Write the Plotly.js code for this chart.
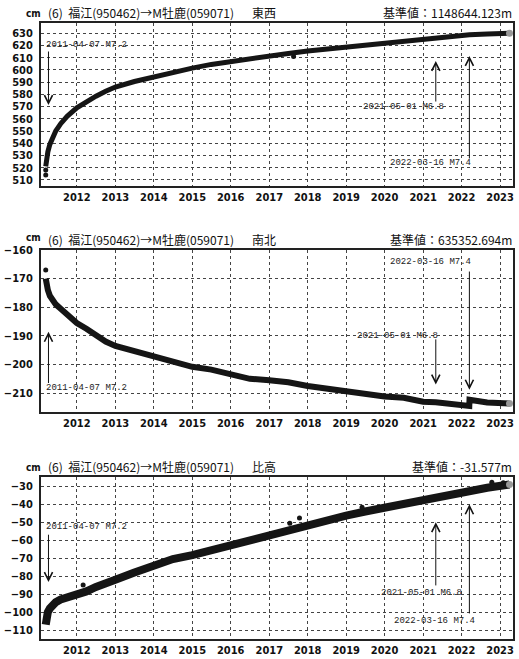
<!DOCTYPE html>
<html><head><meta charset="utf-8">
<script src="https://cdn.plot.ly/plotly-3.0.1.min.js"></script>
<style>body{margin:0;background:#fff}#chart{width:519px;height:659px}</style>
</head><body><div id="chart"></div>
<script>
// ---- data ----
const dates = ['2011-03-12','2011-03-20','2011-04-01','2011-04-20','2011-05-15','2011-06-15','2011-08-01','2011-10-01',
  '2012-01-01','2012-04-01','2012-07-01','2012-10-01','2013-01-01','2013-07-01','2014-01-01','2014-07-01',
  '2015-01-01','2015-07-01','2016-01-01','2016-07-01','2017-01-01','2017-07-01','2018-01-01','2018-07-01',
  '2019-01-01','2019-07-01','2020-01-01','2020-07-01','2021-01-01','2021-04-30','2021-05-02','2021-09-01',
  '2022-01-01','2022-03-15','2022-03-17','2022-09-01','2023-04-01'];
const eastWest = [521,527,533,539,545,550,556,562,569,574,578.5,582.5,586,590.5,594.5,598,601.5,604.5,607,609.5,611.5,613.5,
  615.5,617,618.5,620,621.5,623,624.5,625.5,626.5,627.5,628,628.3,628.8,629.3,630];
const northSouth = [-170,-172,-174,-176,-177.5,-179,-180.5,-182.5,-185.5,-187.5,-190,-192,-193.5,-195.2,-197.3,-198.8,
  -200.8,-201.8,-203.6,-205,-205.5,-206.2,-207.5,-208.5,-209.5,-210.2,-211.2,-211.6,-213,-213.2,-213.2,-213.6,
  -214.3,-214.5,-212.3,-213.3,-213.6];
const upDown = [-107,-103,-100,-98,-96,-94.5,-93,-92,-90.5,-88.5,-86,-83.5,-82,-78,-74,-70.5,-68.3,-65.5,-63,-60.5,
  -57.5,-54,-51.5,-48.8,-46.3,-44,-41.8,-39.5,-37,-36,-36,-34.6,-33.3,-32.8,-32.8,-30.8,-29];
const ewOutDates = ['2011-03-12','2011-03-12','2017-08-20'];
const ewOutVals = [518,514,611];
const nsOutDates = ['2011-03-12'];
const nsOutVals = [-167];
const udOutDates = ['2012-03-01','2017-07-15','2017-10-15','2019-06-01','2022-10-15','2023-02-01'];
const udOutVals = [-85,-50.5,-47.7,-41.6,-27.7,-28];

const quakeDates = ['2011-04-07','2021-05-01','2022-03-16'];
const quakeLabels = ['2011-04-07 M7.2','2021-05-01 M6.8','2022-03-16 M7.4'];
const componentNames = ['東西','南北','比高'];
const baseValues = ['基準値：1148644.123m','基準値：635352.694m','基準値：-31.577m'];
const stationTitle = '(6)  福江(950462)→M牡鹿(059071)';
const yRanges = [[505,638.4],[-216.6,-160],[-115,-24.8]];
const xRange = ['2011-01-26','2023-05-04'];

// arrows per panel: [tailValue, headValue, labelValue, labelShiftPx]
const arrowSpecs = [
  [[616.3,571.3,620.4,-3],[572.9,607.3,569.7,-74],[526.3,611.4,523.8,-80]],
  [[-207,-188.6,-208.1,-3],[-190.7,-207,-190,-80],[-167,-208.8,-164.2,-80]],
  [[-56.1,-83.3,-52.7,-3],[-86,-50,-89.2,-56],[-101.6,-40,-105,-76]]
];

// ---- build ----
const series = [eastWest, northSouth, upDown];
const outD = [ewOutDates, nsOutDates, udOutDates];
const outV = [ewOutVals, nsOutVals, udOutVals];
const widths = [5, 6, 8];
const traces = [];
const layout = {
  width: 519, height: 659, showlegend: false,
  paper_bgcolor: '#fff', plot_bgcolor: '#fff',
  margin: {l: 41, r: 6, t: 23, b: 20},
  annotations: []
};
const domains = [[0.7354,1.0],[0.3685,0.6315],[0.0,0.263]];
const tickFont = {family: 'DejaVu Sans Condensed, Liberation Sans Narrow, Liberation Sans, sans-serif', size: 11, color: '#111', weight: 'bold'};
const titleFont = {family: 'Noto Sans CJK JP, sans-serif', size: 12, color: '#111'};
const labFont = {family: 'Liberation Mono, DejaVu Sans Mono, monospace', size: 9, color: '#222'};

for (let i = 0; i < 3; i++) {
  const sx = i === 0 ? '' : String(i + 1);
  const xa = 'x' + sx, ya = 'y' + sx;
  traces.push({x: dates, y: series[i], xaxis: xa, yaxis: ya, mode: 'lines',
    line: {color: '#151515', width: widths[i]}, hoverinfo: 'skip'});
  traces.push({x: outD[i], y: outV[i], xaxis: xa, yaxis: ya, mode: 'markers',
    marker: {color: '#151515', size: 5}, hoverinfo: 'skip'});
  traces.push({x: [dates[dates.length - 1]], y: [series[i][series[i].length - 1]], xaxis: xa, yaxis: ya, mode: 'markers',
    marker: {color: '#999', size: 7}, hoverinfo: 'skip'});
  layout['xaxis' + sx] = {domain: [0, 1], anchor: ya, type: 'date', range: xRange,
    tick0: '2012-01-01', dtick: 'M12', tickformat: '%Y', ticks: '', tickfont: tickFont,
    showgrid: true, gridcolor: '#444', griddash: 'dot', gridwidth: 1,
    showline: true, mirror: true, linecolor: '#222', linewidth: 2, zeroline: false};
  layout['yaxis' + sx] = {domain: domains[i], anchor: xa, range: yRanges[i], dtick: 10, ticks: '',
    tickfont: tickFont, ticklabelstandoff: 4,
    showgrid: true, gridcolor: '#444', griddash: 'dot', gridwidth: 1,
    showline: true, mirror: true, linecolor: '#222', linewidth: 2, zeroline: false};
  const top = domains[i][1];
  layout.annotations.push({xref: 'paper', yref: 'paper', x: 0, y: top, xanchor: 'left', yanchor: 'bottom',
    xshift: -17, yshift: i === 1 ? 5 : 2, text: '<b>cm</b>', showarrow: false,
    font: {family: 'DejaVu Sans Condensed, sans-serif', size: 10, color: '#111'}});
  layout.annotations.push({xref: 'paper', yref: 'paper', x: 0, y: top, xanchor: 'left', yanchor: 'bottom',
    xshift: 5, yshift: 0, text: stationTitle, showarrow: false, font: titleFont});
  layout.annotations.push({xref: 'paper', yref: 'paper', x: 0, y: top, xanchor: 'left', yanchor: 'bottom',
    xshift: 209, yshift: 0, text: componentNames[i], showarrow: false, font: titleFont});
  layout.annotations.push({xref: 'paper', yref: 'paper', x: 1, y: top, xanchor: 'right', yanchor: 'bottom',
    xshift: 1, yshift: 0, text: baseValues[i], showarrow: false, font: titleFont});
  for (let k = 0; k < 3; k++) {
    const s = arrowSpecs[i][k];
    layout.annotations.push({xref: xa, yref: ya, axref: xa, ayref: ya, x: quakeDates[k], y: s[1],
      ax: quakeDates[k], ay: s[0], text: '', showarrow: true, arrowhead: 5, arrowsize: 1.6, arrowwidth: 1,
      arrowcolor: '#111', standoff: 0, startstandoff: 0});
    layout.annotations.push({xref: xa, yref: ya, x: quakeDates[k], y: s[2], xanchor: 'left', yanchor: 'middle',
      xshift: s[3], text: quakeLabels[k], showarrow: false, font: labFont, borderpad: 0});
  }
}
Plotly.newPlot('chart', traces, layout, {staticPlot: true});
</script></body></html>
